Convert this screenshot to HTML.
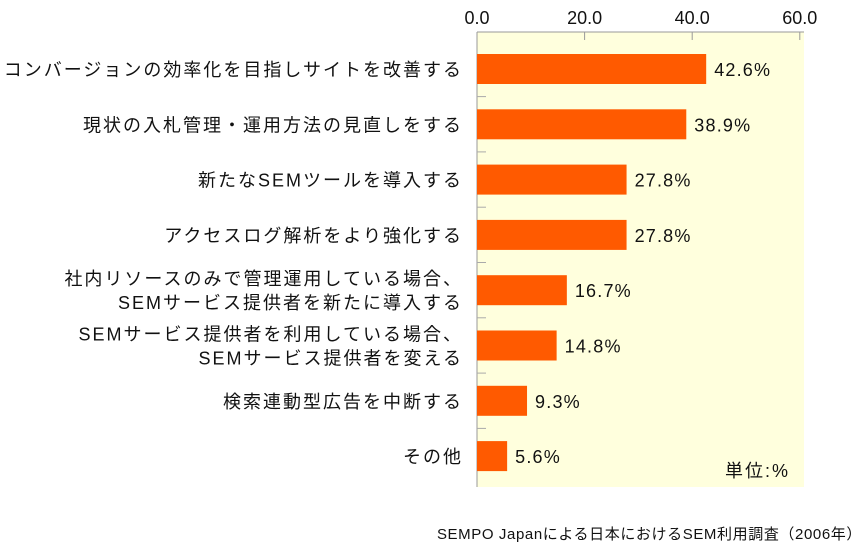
<!DOCTYPE html>
<html><head><meta charset="utf-8"><style>
body{margin:0;background:#fff;width:866px;height:545px;overflow:hidden}
svg text{font-family:"Liberation Sans","Noto Sans CJK JP",sans-serif;fill:#111}
</style></head><body>
<svg id="c" width="866" height="545"></svg>
<script>
const categories=["コンバージョンの効率化を目指しサイトを改善する","現状の入札管理・運用方法の見直しをする","新たなSEMツールを導入する","アクセスログ解析をより強化する","社内リソースのみで管理運用している場合、\nSEMサービス提供者を新たに導入する","SEMサービス提供者を利用している場合、\nSEMサービス提供者を変える","検索連動型広告を中断する","その他"];
const values=[42.6,38.9,27.8,27.8,16.7,14.8,9.3,5.6];
const ticks=[0,20,40,60];
const tickLabels=["0.0","20.0","40.0","60.0"];
const NS="http://www.w3.org/2000/svg";
const svg=document.getElementById('c');
function x(v){return 477+v*5.38;}
function yc(i){return 69+i*55.3;}
function mk(t,a,txt){const e=document.createElementNS(NS,t);for(const k in a)e.setAttribute(k,a[k]);if(txt!=null)e.textContent=txt;svg.appendChild(e);return e;}
let e=mk('rect',{x:477,y:32,width:327,height:455,fill:'#ffffdd'});


e=mk('line',{x1:477,y1:32,x2:804,y2:32,stroke:'#999'});


e=mk('line',{x1:477,y1:32,x2:477,y2:487,stroke:'#999'});


ticks.forEach((t,i)=>{
  const tl=mk('line',{x1:x(t),y1:32,x2:x(t),y2:40,stroke:'#999'});
  
  
  const tt=mk('text',{x:x(t),y:24,'text-anchor':'middle','font-size':18},tickLabels[i]);
  
  
});
for(let i=0;i<categories.length-1;i++){
  const tk=mk('line',{x1:477,y1:yc(i)+27.6,x2:486,y2:yc(i)+27.6,stroke:'#aaa'});
  
  
}
categories.forEach((c,i)=>{
  const b=mk('rect',{x:477,y:yc(i)-15,width:x(values[i])-477,height:30,fill:'#ff5a00'});
  
  
  const v=mk('text',{x:x(values[i])+8,y:yc(i)+7,'font-size':18,'letter-spacing':1.2},values[i].toFixed(1)+'%');
  
  
  const lines=c.split('\n');
  lines.forEach((l,j)=>{
    const yy=yc(i)+7+(j-(lines.length-1)/2)*24;
    const t=mk('text',{x:463,y:yy,'text-anchor':'end','font-size':18,'letter-spacing':2},l);
    
    
  });
});
e=mk('text',{x:790,y:477,'text-anchor':'end','font-size':18,'letter-spacing':2},'単位:%');


e=mk('text',{x:862,y:539,'text-anchor':'end','font-size':15,'letter-spacing':0.6},'SEMPO Japanによる日本におけるSEM利用調査（2006年）');


</script>
</body></html>
